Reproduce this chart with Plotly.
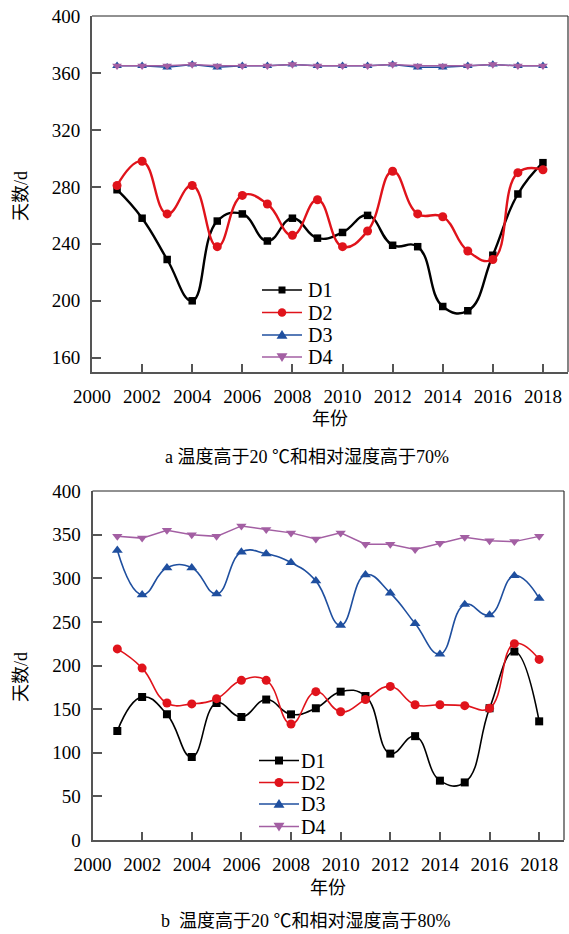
import plotly.graph_objects as go

# ---- data -------------------------------------------------------------
years = list(range(2001, 2019))

# a: days with temperature > 20 °C and relative humidity > 70 %
a_d1 = [278, 258, 229, 200, 256, 261, 242, 258, 244, 248, 260, 239, 238, 196, 193, 232, 275, 297]
a_d2 = [281, 298, 261, 281, 238, 274, 268, 246, 271, 238, 249, 291, 261, 259, 235, 229, 290, 292]
a_d3 = [365, 365, 364, 366, 364, 365, 365, 366, 365, 365, 365, 366, 364, 364, 365, 366, 365, 365]
a_d4 = [365, 365, 365, 366, 365, 365, 365, 366, 365, 365, 365, 366, 365, 365, 365, 366, 365, 365]

# b: days with temperature > 20 °C and relative humidity > 80 %
b_d1 = [125, 164, 144, 95, 157, 141, 161, 144, 151, 170, 165, 99, 119, 68, 66, 151, 216, 136]
b_d2 = [219, 197, 157, 156, 162, 183, 183, 133, 170, 147, 161, 176, 155, 155, 154, 151, 225, 207]
b_d3 = [332, 281, 312, 312, 282, 330, 328, 318, 297, 246, 304, 283, 248, 213, 270, 258, 303, 277]
b_d4 = [348, 346, 355, 350, 348, 360, 356, 352, 345, 352, 339, 339, 333, 340, 347, 343, 342, 348]

series_names = ["D1", "D2", "D3", "D4"]
x_ticks = list(range(2000, 2019, 2))
a_y_ticks = list(range(160, 401, 40))
b_y_ticks = list(range(0, 401, 50))

# ---- styling ------------------------------------------------------------
W, H = 569, 934
SERIF = "Liberation Serif"
CJK = "'Liberation Serif', 'Noto Sans CJK SC'"
AXIS_GRAY = "#555555"

COLORS = {"D1": "#000000", "D2": "#e0131b", "D3": "#1f4f9f", "D4": "#a35fa3"}
SYMBOLS = {"D1": "square", "D2": "circle", "D3": "triangle-up", "D4": "triangle-down"}


def fx(px):
    return px / W


def fy(py):
    return 1 - py / H


TOP = dict(x0=92, x1=568, y0=16, y1=372)
BOT = dict(x0=92.5, x1=564, y0=491, y1=840)

fig = go.Figure()


def add_series(xa, ya, values, name, shape, width, msize):
    fig.add_trace(go.Scatter(
        x=years, y=values, name=name, xaxis=xa, yaxis=ya,
        mode="lines+markers",
        line=dict(color=COLORS[name], width=width, shape=shape, smoothing=1.3),
        marker=dict(symbol=SYMBOLS[name], color=COLORS[name], size=msize),
        showlegend=False,
    ))


# panel a
add_series("x", "y", a_d3, "D3", "linear", 1.5, 8.5)
add_series("x", "y", a_d4, "D4", "linear", 1.5, 8.5)
add_series("x", "y", a_d1, "D1", "spline", 2.4, 7.5)
add_series("x", "y", a_d2, "D2", "spline", 2.4, 9)

# panel b
add_series("x2", "y2", b_d4, "D4", "linear", 1.5, 9)
add_series("x2", "y2", b_d3, "D3", "spline", 1.6, 9.5)
add_series("x2", "y2", b_d1, "D1", "spline", 1.6, 8)
add_series("x2", "y2", b_d2, "D2", "spline", 1.6, 9)

tickfont = dict(family=SERIF, size=19, color="#000000")
common_x = dict(
    range=[2000, 2019], tickvals=x_ticks, ticks="inside", ticklen=8, tickwidth=1.5,
    tickcolor=AXIS_GRAY, showline=True, linecolor=AXIS_GRAY, linewidth=2,
    showgrid=False, zeroline=False, tickfont=tickfont, automargin=False,
    ticklabelstandoff=6,
)
common_y = dict(
    ticks="inside", ticklen=9, tickwidth=1.5, tickcolor=AXIS_GRAY,
    showline=True, linecolor=AXIS_GRAY, linewidth=2, showgrid=False,
    zeroline=False, tickfont=tickfont, automargin=False, ticklabelstandoff=6,
)

fig.update_layout(
    width=W, height=H,
    margin=dict(l=0, r=0, t=0, b=0),
    paper_bgcolor="white", plot_bgcolor="white",
    font=dict(family=SERIF),
    xaxis=dict(domain=[fx(TOP["x0"]), fx(TOP["x1"])], anchor="y", **common_x),
    yaxis=dict(domain=[fy(TOP["y1"]), fy(TOP["y0"])], anchor="x",
               range=[150, 400], tickvals=a_y_ticks, **common_y),
    xaxis2=dict(domain=[fx(BOT["x0"]), fx(BOT["x1"])], anchor="y2", **common_x),
    yaxis2=dict(domain=[fy(BOT["y1"]), fy(BOT["y0"])], anchor="x2",
                range=[0, 400], tickvals=b_y_ticks, **common_y),
)

shapes = []
annotations = []

# thin top and right frame lines
for box in (TOP, BOT):
    shapes.append(dict(type="line", xref="paper", yref="paper",
                       x0=fx(box["x0"]), x1=fx(box["x1"]), y0=fy(box["y0"]), y1=fy(box["y0"]),
                       line=dict(color="#222222", width=1)))
    shapes.append(dict(type="line", xref="paper", yref="paper",
                       x0=fx(box["x1"]), x1=fx(box["x1"]), y0=fy(box["y0"]), y1=fy(box["y1"]),
                       line=dict(color="#333333", width=1.2)))


def legend_marker(name, cx, cy, s):
    """Legend sample marker drawn as a paper-space shape (s = pixel size)."""
    col = COLORS[name]
    base = dict(xref="paper", yref="paper", fillcolor=col, line=dict(color=col, width=0))
    h = s / 2
    if name == "D1":
        return dict(type="rect", x0=fx(cx - h), x1=fx(cx + h), y0=fy(cy - h), y1=fy(cy + h), **base)
    if name == "D2":
        return dict(type="circle", x0=fx(cx - h), x1=fx(cx + h), y0=fy(cy - h), y1=fy(cy + h), **base)
    if name == "D3":
        path = f"M {fx(cx - h*1.1)},{fy(cy + h*0.75)} L {fx(cx + h*1.1)},{fy(cy + h*0.75)} L {fx(cx)},{fy(cy - h)} Z"
    else:
        path = f"M {fx(cx - h*1.1)},{fy(cy - h*0.75)} L {fx(cx + h*1.1)},{fy(cy - h*0.75)} L {fx(cx)},{fy(cy + h)} Z"
    return dict(type="path", path=path, **base)


def add_legend(x0, x1, text_x, rows, sizes):
    for name, ry in zip(series_names, rows):
        shapes.append(dict(type="line", xref="paper", yref="paper",
                           x0=fx(x0), x1=fx(x1), y0=fy(ry), y1=fy(ry),
                           line=dict(color=COLORS[name], width=1.6)))
        shapes.append(legend_marker(name, (x0 + x1) / 2, ry, sizes[name]))
        annotations.append(dict(text=name, xref="paper", yref="paper",
                                x=fx(text_x), y=fy(ry), xanchor="left", yanchor="middle",
                                showarrow=False, font=dict(family=SERIF, size=20, color="#000")))


add_legend(262, 302, 306, [290, 312.5, 335, 357], {"D1": 7, "D2": 8.5, "D3": 10, "D4": 10})
add_legend(259, 299, 299, [760.5, 782.5, 804, 826.5], {"D1": 8, "D2": 9, "D3": 10, "D4": 10})


def text(t, x, y, size=18, angle=0):
    annotations.append(dict(text=t, xref="paper", yref="paper", x=fx(x), y=fy(y),
                            xanchor="center", yanchor="middle", showarrow=False,
                            textangle=angle, font=dict(family=CJK, size=size, color="#000")))


text("天数/d", 21, 196, angle=-90)
text("天数/d", 21, 677, angle=-90)
text("年份", 330, 419)
text("年份", 328, 888)
text("a 温度高于20 ℃和相对湿度高于70%", 307, 457)
text("b  温度高于20 ℃和相对湿度高于80%", 306, 921)

fig.update_layout(shapes=shapes, annotations=annotations)

fig.write_html("out.html")
